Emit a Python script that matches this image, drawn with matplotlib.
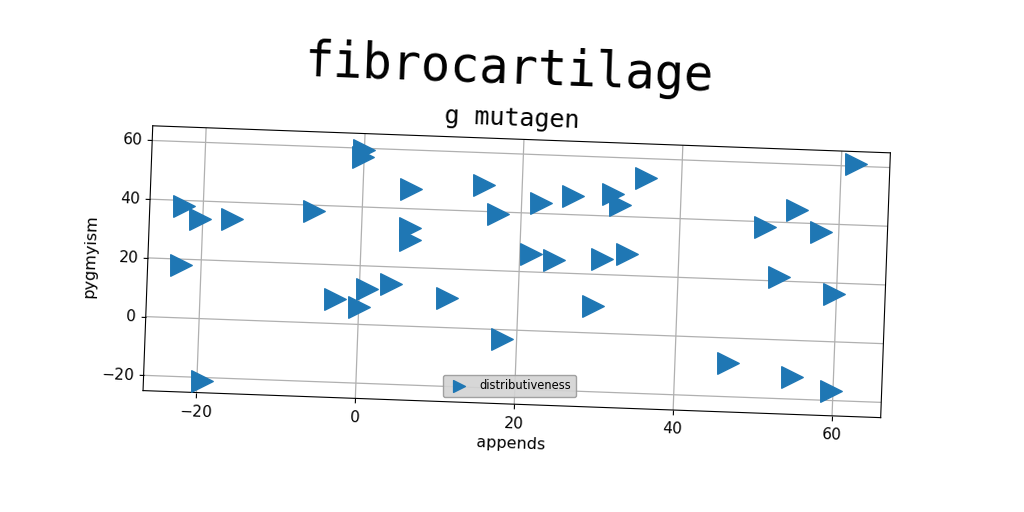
import matplotlib
matplotlib.use("Agg")
import matplotlib.pyplot as plt
from matplotlib.transforms import Affine2D
from mpl_toolkits.axisartist import floating_axes
from mpl_toolkits.axisartist.grid_finder import FixedLocator

title = "fibrocartilage"
subtitle = "g mutagen"
x_label = "appends"
y_label = "pygmyism"
series_name = "distributiveness"
x_ticks = [-20, 0, 20, 40, 60]
y_ticks = [-20, 0, 20, 40, 60]

x_values = [-22.4, -20.3, -16.3, -6.1, -0.1, -0.1, -22.5, -19.3, -3.0, 0.05,
            1.0, 4.0, 6.05, 6.1, 6.2, 11.1, 15.2, 17.1, 18.2, 21.4,
            24.3, 22.4, 26.4, 31.4, 32.4, 35.5, 30.3, 33.5, 29.4, 50.7,
            54.7, 57.8, 52.7, 59.7, 46.7, 54.8, 59.8, 61.9]
y_values = [38.1, 33.9, 34.3, 38.0, 59.5, 57.1, 17.9, -21.1, 8.2, 5.8,
            12.0, 14.1, 46.8, 33.4, 29.3, 10.0, 49.0, 39.3, -3.3, 26.1,
            24.3, 43.6, 46.4, 47.6, 43.9, 53.4, 25.3, 27.3, 9.1, 38.2,
            44.4, 37.2, 21.3, 16.2, -8.6, -12.6, -16.6, 60.9]

tilt = -2.1  # whole chart slightly tilted clockwise

# axis extents: data range plus 5% margin (like matplotlib autoscale)
xr = max(x_values) - min(x_values)
yr = max(y_values) - min(y_values)
x_lo, x_hi = min(x_values) - 0.05 * xr, max(x_values) + 0.05 * xr
y_lo, y_hi = min(y_values) - 0.05 * yr, max(y_values) + 0.05 * yr

fig = plt.figure(figsize=(10.24, 5.12), dpi=100)

tr = Affine2D().scale(7.93, 2.93).rotate_deg(tilt)
grid_helper = floating_axes.GridHelperCurveLinear(
    tr, extremes=(x_lo, x_hi, y_lo, y_hi),
    grid_locator1=FixedLocator(x_ticks),
    grid_locator2=FixedLocator(y_ticks))
ax = fig.add_axes([0.1309, 0.1786, 0.7474, 0.5814],
                  axes_class=floating_axes.FloatingAxes,
                  grid_helper=grid_helper)
aux = ax.get_aux_axes(tr)

sc = aux.scatter(x_values, y_values, marker=">", s=240, color="#1f77b4",
                 label=series_name, zorder=3)

ax.grid(True, color="#b0b0b0", linewidth=0.9)

for side in ["left", "bottom"]:
    ax.axis[side].major_ticklabels.set_fontsize(11)
    ax.axis[side].major_ticks.set_tick_out(True)
    ax.axis[side].major_ticks.set_ticksize(3.5)
for side in ["top", "right"]:
    ax.axis[side].major_ticks.set_visible(False)

ax.axis["bottom"].label.set_text(x_label)
ax.axis["bottom"].label.set_fontsize(11.5)
ax.axis["bottom"].label.set_visible(True)
ax.axis["left"].label.set_text(y_label)
ax.axis["left"].label.set_fontsize(11.5)
ax.axis["left"].label.set_visible(True)

fig.text(0.4995, 0.7695, subtitle, family="DejaVu Sans Mono", fontsize=18,
         ha="center", va="center", rotation=tilt)
fig.text(0.4965, 0.864, title, family="DejaVu Sans Mono", fontsize=35,
         ha="center", va="center", rotation=tilt)

ax.legend(handles=[sc], labels=[series_name], loc="center",
          bbox_to_anchor=(0.4905, 0.117), fontsize=8.3, markerscale=0.55,
          facecolor="#d3d3d3", edgecolor="#999999", framealpha=0.9)

fig.savefig("out.png", dpi=100)
